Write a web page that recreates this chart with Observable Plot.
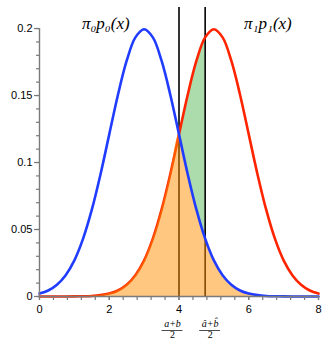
<!DOCTYPE html>
<html>
<head>
<meta charset="utf-8">
<script src="https://cdn.jsdelivr.net/npm/d3@7"></script>
<script src="https://cdn.jsdelivr.net/npm/@observablehq/plot@0.6"></script>
<style>
  html, body { margin: 0; padding: 0; background: #fff; }
</style>
</head>
<body>
<div id="chart"></div>
<script>
// x grid (read at steps of 0.25)
const xs = [0,0.25,0.5,0.75,1,1.25,1.5,1.75,2,2.25,2.5,2.75,3,3.25,3.5,3.75,4,4.25,4.5,4.75,5,5.25,5.5,5.75,6,6.25,6.5,6.75,7,7.25,7.5,7.75,8];
// pi0 p0(x) (blue)
const blue = [0.0022,0.0045,0.0088,0.0159,0.0270,0.0432,0.0648,0.0913,0.1210,0.1506,0.1760,0.1934,0.1995,0.1934,0.1760,0.1506,0.1210,0.0913,0.0648,0.0432,0.0270,0.0159,0.0088,0.0045,0.0022,0.0010,0.0004,0.0002,0.0001,0,0,0,0];
// pi1 p1(x) (red)
const red = [0,0,0,0,0.0001,0.0002,0.0004,0.0010,0.0022,0.0045,0.0088,0.0159,0.0270,0.0432,0.0648,0.0913,0.1210,0.1506,0.1760,0.1934,0.1995,0.1934,0.1760,0.1506,0.1210,0.0913,0.0648,0.0432,0.0270,0.0159,0.0088,0.0045,0.0022];
// thresholds
const thresholds = [4, 4.75];
const fracNums = ["a+b", "\u00e2+b\u0302"];
const fracDens = ["2", "2"];
// tick values
const xTicks = [0,2,4,6,8];
const xMinor = d3.range(0, 8.0001, 0.4);
const yTicks = [0,0.05,0.1,0.15,0.2];
const yMinor = d3.range(0, 0.2001, 0.01);
// curve labels
const curveLabels = ["\u03c0\u2080p\u2080(x)", "\u03c0\u2081p\u2081(x)"];
const curveLabelX = [1.9, 6.55];
const curveLabelY = [0.204, 0.204];

const rows = xs.map((x, i) => ({x, blue: blue[i], red: red[i]}));
const greenRows = rows.filter(d => d.x >= thresholds[0] && d.x <= thresholds[1]);
const fracs = thresholds.map((x, i) => ({x, num: fracNums[i], den: fracDens[i]}));
const labels = curveLabels.map((t, i) => ({t, x: curveLabelX[i], y: curveLabelY[i]}));

const axisColor = "#7a7a7a";
const fracDx = [-6.5, 5];
const serif = "'Liberation Serif', 'DejaVu Serif', serif";

const chart = Plot.plot({
  width: 327,
  height: 347,
  marginLeft: 39,
  marginRight: 9,
  marginTop: 7,
  marginBottom: 51,
  style: {fontFamily: "'Liberation Sans', Arial, sans-serif", fontSize: "11px", background: "#fff", color: "#000"},
  x: {domain: [0, 8], label: null},
  y: {domain: [0, 0.2157], label: null},
  marks: [
    Plot.areaY(greenRows, {x: "x", y1: "blue", y2: "red", fill: "#acdbac", curve: "catmull-rom"}),
    Plot.ruleX(thresholds, {stroke: "#000", strokeWidth: 1.6}),
    Plot.lineY(rows, {x: "x", y: "red", stroke: "#ff2400", strokeWidth: 2.6, curve: "catmull-rom"}),
    Plot.areaY(rows, {x: "x", y: d => Math.min(d.blue, d.red), fill: "rgb(255,143,0)", fillOpacity: 0.5, curve: "catmull-rom"}),
    Plot.lineY(rows, {x: "x", y: "blue", stroke: "#1f3cff", strokeWidth: 2.6, curve: "catmull-rom"}),
    // axes
    Plot.ruleY([0], {stroke: axisColor, strokeWidth: 1.4}),
    Plot.ruleX([0], {y1: 0, y2: yTicks[yTicks.length - 1], stroke: axisColor, strokeWidth: 1.4}),
    Plot.axisX(xMinor, {tickSize: 4, text: null, label: null, stroke: axisColor, strokeWidth: 1.2}),
    Plot.axisX(xTicks, {tickSize: 4, tickPadding: 5, stroke: axisColor, strokeWidth: 1.2, label: null, fill: "#000"}),
    Plot.axisY(yMinor, {tickSize: 3, text: null, label: null, stroke: axisColor, strokeWidth: 1.2}),
    Plot.axisY(yTicks, {tickSize: 5, tickPadding: 2, stroke: axisColor, strokeWidth: 1.2, label: null, tickFormat: d3.format("~g"), fill: "#000"}),
    // curve labels
    Plot.text(labels, {x: "x", y: "y", text: "t", ariaLabel: "curve-label", fontFamily: serif, fontStyle: "italic", fontSize: 17, fill: "#000"}),
    // fraction labels under thresholds
    ...fracs.flatMap((f, i) => [
      Plot.text([f], {x: "x", text: "num", frameAnchor: "bottom", dy: 30, dx: fracDx[i], fontFamily: serif, fontStyle: "italic", fontSize: 10, fill: "#000"}),
      Plot.ruleY([f], {x1: d => d.x - 0.3, x2: d => d.x + 0.3, y: () => 0, dy: 34, dx: fracDx[i], stroke: "#000", strokeWidth: 0.7}),
      Plot.text([f], {x: "x", text: "den", frameAnchor: "bottom", dy: 41, dx: fracDx[i], fontFamily: serif, fontSize: 10, fill: "#000"})
    ])
  ]
});
document.getElementById("chart").appendChild(chart);

// typeset the curve labels: subscript digits
const subs = "\u2080\u2081\u2082\u2083\u2084\u2085\u2086\u2087\u2088\u2089";
d3.select(chart).selectAll('g[aria-label="curve-label"] text').each(function() {
  const el = d3.select(this);
  const s = el.text();
  el.text(null).attr("letter-spacing", 0.8);
  let shifted = false;
  for (const ch of s) {
    const k = subs.indexOf(ch);
    const t = el.append("tspan");
    if (k >= 0) {
      t.text(String(k)).attr("font-size", 12).attr("dy", shifted ? 0 : 3);
      shifted = true;
    } else {
      t.text(ch);
      if (shifted) { t.attr("dy", -3); shifted = false; }
    }
  }
});
</script>
</body>
</html>
